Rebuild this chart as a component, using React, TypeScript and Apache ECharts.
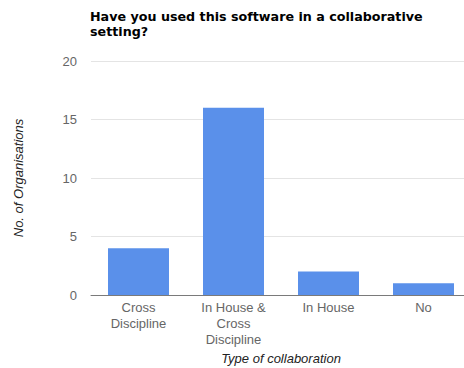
import React, { useEffect, useRef } from "react";
import * as echarts from "echarts";

const categories = ["Cross\nDiscipline", "In House &\nCross\nDiscipline", "In House", "No"];
const values = [4, 16, 2, 1];
const titleText = "Have you used this software in a collaborative\nsetting?";
const yName = "No. of Organisations";
const xName = "Type of collaboration";

export default function App() {
  const ref = useRef<HTMLDivElement>(null);
  useEffect(() => {
    const chart = echarts.init(ref.current!, null, { renderer: "svg" });
    chart.setOption({
      animation: false,
      backgroundColor: "#ffffff",
      title: {
        text: titleText,
        left: 85,
        top: 4,
        textStyle: {
          fontFamily: "DejaVu Sans, sans-serif",
          fontSize: 12.7,
          fontWeight: "bold",
          color: "#000000",
          lineHeight: 15,
        },
      },
      grid: {
        left: 91,
        width: 380,
        top: 61,
        height: 234,
        containLabel: false,
        outerBoundsMode: "none",
      },
      xAxis: {
        type: "category",
        data: categories,
        name: xName,
        nameLocation: "middle",
        nameGap: 56,
        nameTextStyle: {
          fontFamily: "Liberation Sans, Arial, sans-serif",
          fontSize: 13,
          fontStyle: "italic",
          color: "#222222",
        },
        axisLine: { lineStyle: { color: "#7a7a7a", width: 1 } },
        axisTick: { show: false },
        axisLabel: {
          fontFamily: "Liberation Sans, Arial, sans-serif",
          fontSize: 13,
          color: "#666666",
          lineHeight: 16,
          margin: 4,
          interval: 0,
        },
      },
      yAxis: {
        type: "value",
        min: 0,
        max: 20,
        interval: 5,
        name: yName,
        nameLocation: "middle",
        nameGap: 66,
        nameTextStyle: {
          fontFamily: "Liberation Sans, Arial, sans-serif",
          fontSize: 13,
          fontStyle: "italic",
          color: "#222222",
        },
        axisLine: { show: false },
        axisTick: { show: false },
        axisLabel: {
          fontFamily: "Liberation Sans, Arial, sans-serif",
          fontSize: 13,
          color: "#666666",
          margin: 14,
        },
        splitLine: { lineStyle: { color: "#e4e4e4", width: 1 } },
      },
      series: [
        {
          type: "bar",
          data: values,
          barWidth: 61,
          itemStyle: { color: "#5a90ea" },
        },
      ],
    });
    return () => chart.dispose();
  }, []);
  return (
    <div
      ref={ref}
      style={{ position: "fixed", left: 0, top: 0, width: 464, height: 368 }}
    />
  );
}
